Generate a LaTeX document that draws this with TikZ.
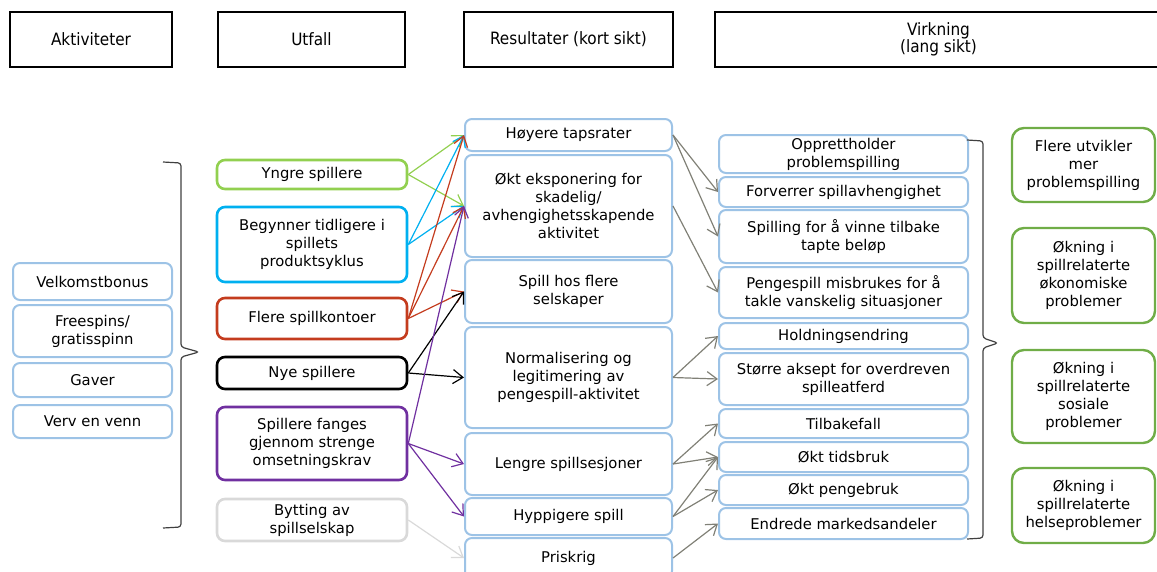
\documentclass[tikz,border=0pt]{standalone}
\usepackage{fontspec}
\setmainfont{DejaVu Sans}
\newfontfamily\headfont{DejaVu Sans Condensed}
\usepackage{tikz}
\usetikzlibrary{positioning,arrows.meta}

\definecolor{boxblue}{RGB}{157,195,230}
\definecolor{ygreen}{RGB}{146,208,80}
\definecolor{cyanblue}{RGB}{0,176,240}
\definecolor{brickred}{RGB}{196,60,30}
\definecolor{violet}{RGB}{112,48,160}
\definecolor{palegray}{RGB}{217,217,217}
\definecolor{effgreen}{RGB}{112,173,71}
\definecolor{resgray}{RGB}{128,128,118}

\tikzset{
	every node/.style={align=center, inner sep=0pt, font=\fontsize{14.8}{18}\selectfont},
	head/.style={draw=black, line width=2.8pt, font=\headfont\fontsize{17}{16.5}\selectfont},
	lbox/.style={draw=boxblue, line width=2pt, rounded corners=7pt, fill=white},
	ubox/.style={draw=#1, line width=2.6pt, rounded corners=8pt, fill=white},
	gbox/.style={draw=effgreen, line width=2.4pt, rounded corners=12pt, fill=white},
	sz/.style 2 args={minimum width=#1pt, minimum height=#2pt},
	link/.style={->, line width=1.2pt, draw=#1},
	brack/.style={line width=1.2pt, draw=black!75, rounded corners=3pt},
	>={Straight Barb[length=10pt,width=14pt]}
}

\begin{document}
\begin{tikzpicture}[x=1pt, y=-1pt]
\useasboundingbox (0,0) rectangle (1157,571);

% column headings
\node[head, sz={162}{55}] (hAkt) at (91,39.5) {Aktiviteter};
\node[head, sz={187}{55}] (hUtf) at (311.5,39.5) {Utfall};
\node[head, sz={209}{55}] (hRes) at (568.5,39.5) {Resultater (kort sikt)};
\node[head, sz={447}{55}] (hVirk) at (938.5,39.5) {Virkning\\(lang sikt)};

% aktiviteter
\node[lbox, sz={159}{37}] (aVelk) at (92.5,281.5) {Velkomstbonus};
\node[lbox, sz={159}{52}] (aFree) at (92.5,331) {Freespins/\\gratisspinn};
\node[lbox, sz={159}{34}] (aGaver) at (92.5,380) {Gaver};
\node[lbox, sz={159}{33}] (aVerv) at (92.5,421.5) {Verv en venn};

\draw[brack] (163,162) -- (181,163) -- (181,347) -- (199,352) -- (181,357) -- (181,527) -- (163,528);

% utfall
\node[ubox=ygreen, sz={190}{29}] (uYngre) at (312,174.5) {Yngre spillere};
\node[ubox=cyanblue, sz={190}{75}] (uBeg) at (312,244.5) {Begynner tidligere i\\spillets\\produktsyklus};
\node[ubox=brickred, sz={190}{41}] (uFlere) at (312,318.5) {Flere spillkontoer};
\node[ubox=black, sz={190}{32}] (uNye) at (312,373) {Nye spillere};
\node[ubox=violet, sz={190}{73}] (uFang) at (312,443.5) {Spillere fanges\\gjennom strenge\\omsetningskrav};
\node[ubox=palegray, sz={190}{42}] (uBytt) at (312,520) {Bytting av\\spillselskap};

% resultater (kort sikt)
\node[lbox, sz={207}{32}] (rTap) at (568.5,135) {Høyere tapsrater};
\node[lbox, sz={207}{102}] (rEksp) at (568.5,206) {Økt eksponering for\\skadelig/\\avhengighetsskapende\\aktivitet};
\node[lbox, sz={207}{63}] (rFlere) at (568.5,291.5) {Spill hos flere\\selskaper};
\node[lbox, sz={207}{101}] (rNorm) at (568.5,377.5) {Normalisering og\\legitimering av\\pengespill-aktivitet};
\node[lbox, sz={207}{62}] (rLengre) at (568.5,464) {Lengre spillsesjoner};
\node[lbox, sz={207}{37}] (rHypp) at (568.5,516.5) {Hyppigere spill};
\node[lbox, sz={207}{40}] (rPris) at (568.5,558) {Priskrig};

% virkning (lang sikt)
\node[lbox, sz={249}{38}] (vOpp) at (843.5,154) {Opprettholder\\problemspilling};
\node[lbox, sz={249}{30}] (vForv) at (843.5,192) {Forverrer spillavhengighet};
\node[lbox, sz={249}{53}] (vVinne) at (843.5,236.5) {Spilling for å vinne tilbake\\tapte beløp};
\node[lbox, sz={249}{51}] (vMisb) at (843.5,292.5) {Pengespill misbrukes for å\\takle vanskelig situasjoner};
\node[lbox, sz={249}{26}] (vHold) at (843.5,336) {Holdningsendring};
\node[lbox, sz={249}{52}] (vAksept) at (843.5,379) {Større aksept for overdreven\\spilleatferd};
\node[lbox, sz={249}{29}] (vTilb) at (843.5,423.5) {Tilbakefall};
\node[lbox, sz={249}{30}] (vTid) at (843.5,457) {Økt tidsbruk};
\node[lbox, sz={249}{30}] (vPenge) at (843.5,490) {Økt pengebruk};
\node[lbox, sz={249}{31}] (vMarked) at (843.5,523.5) {Endrede markedsandeler};

\draw[brack] (967,140) -- (983,141) -- (983,338) -- (998,343) -- (983,348) -- (983,538) -- (967,539);

% samfunnsvirkning
\node[gbox, sz={143}{74}] (gFlere) at (1083.5,165) {Flere utvikler\\mer\\problemspilling};
\node[gbox, sz={143}{95}] (gOkon) at (1083.5,275.5) {Økning i\\spillrelaterte\\økonomiske\\problemer};
\node[gbox, sz={143}{93}] (gSos) at (1083.5,396.5) {Økning i\\spillrelaterte\\sosiale\\problemer};
\node[gbox, sz={143}{75}] (gHelse) at (1083.5,505.5) {Økning i\\spillrelaterte\\helseproblemer};

% utfall -> resultater
\foreach \a/\b/\c in {uYngre/rTap/ygreen, uYngre/rEksp/ygreen,
		uBeg/rTap/cyanblue, uBeg/rEksp/cyanblue,
		uFlere/rTap/brickred, uFlere/rEksp/brickred, uFlere/rFlere/brickred,
		uNye/rFlere/black, uNye/rNorm/black,
		uFang/rEksp/violet, uFang/rLengre/violet, uFang/rHypp/violet,
		uBytt/rPris/palegray}
	\draw[link=\c] (\a.east) -- (\b.west);

% resultater -> virkning
\foreach \a/\b in {rTap/vForv, rTap/vVinne, rEksp/vMisb,
		rNorm/vHold, rNorm/vAksept, rLengre/vTilb, rLengre/vTid,
		rHypp/vTid, rHypp/vPenge, rPris/vMarked}
	\draw[link=resgray] (\a.east) -- (\b.west);

\end{tikzpicture}
\end{document}
